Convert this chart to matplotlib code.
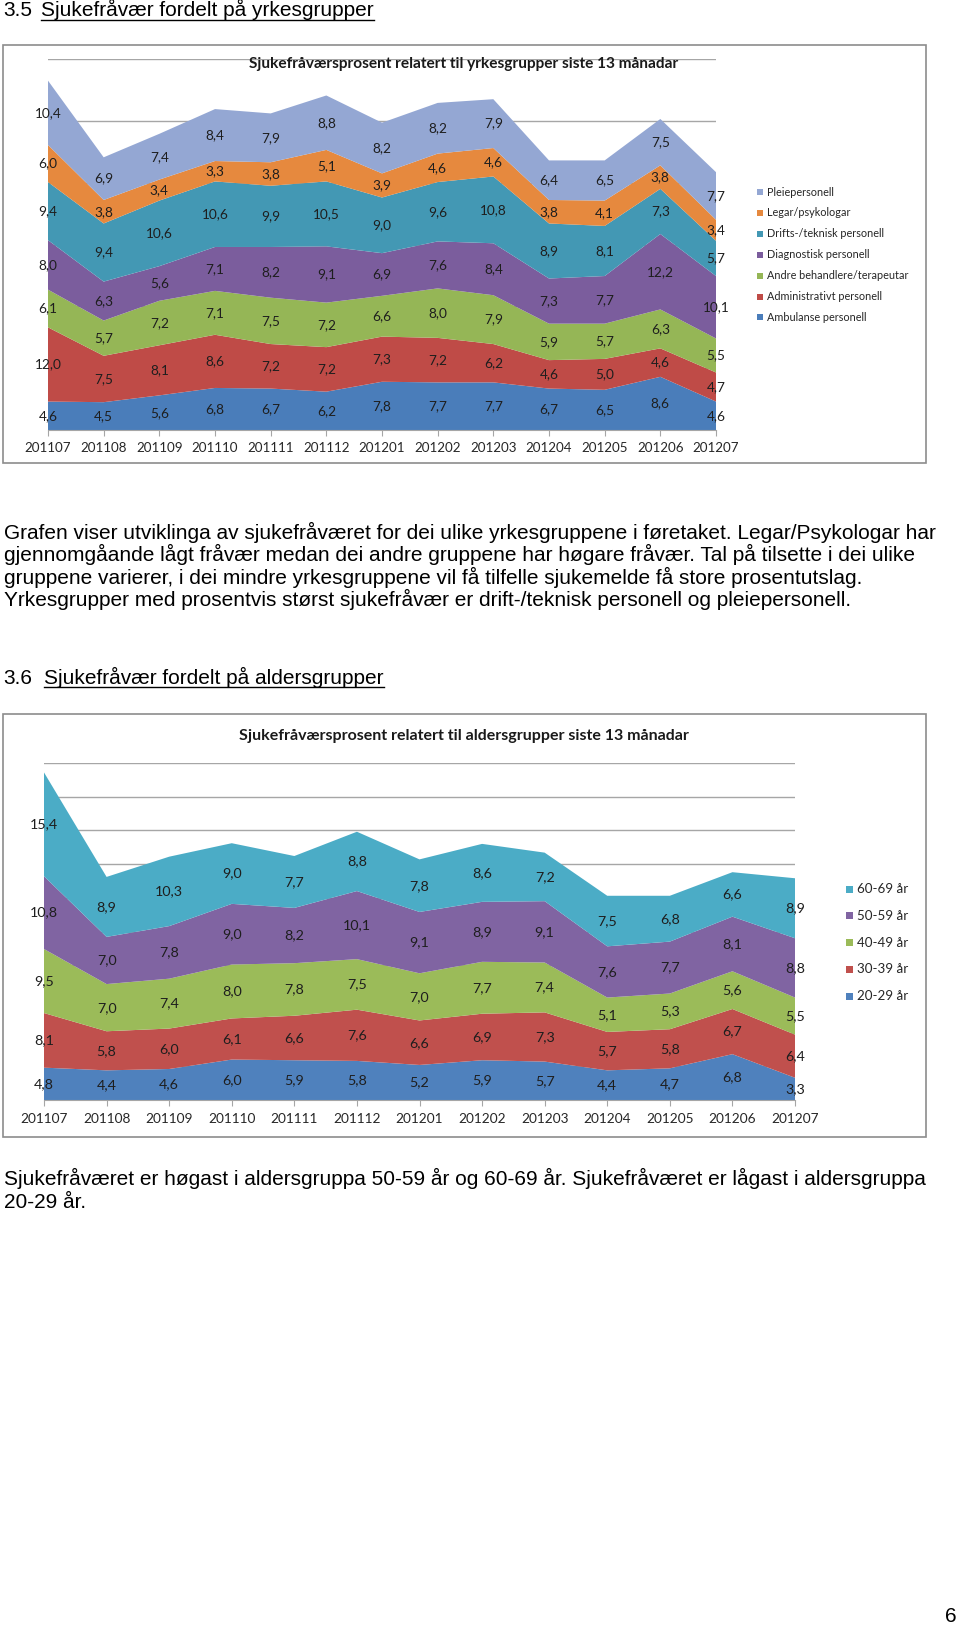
import matplotlib
matplotlib.use('Agg')
import matplotlib.pyplot as plt
import numpy as np
from matplotlib.patches import Rectangle
from matplotlib.lines import Line2D

W, H = 960, 1632

months = ['201107', '201108', '201109', '201110', '201111', '201112', '201201',
          '201202', '201203', '201204', '201205', '201206', '201207']

# ---- Chart 1: yrkesgrupper (bottom -> top) ----
yrke_names = ['Ambulanse personell', 'Administrativt personell', 'Andre behandlere/terapeutar',
              'Diagnostisk personell', 'Drifts-/teknisk personell', 'Legar/psykologar', 'Pleiepersonell']
ambulanse = [4.6, 4.5, 5.6, 6.8, 6.7, 6.2, 7.8, 7.7, 7.7, 6.7, 6.5, 8.6, 4.6]
administrativt = [12.0, 7.5, 8.1, 8.6, 7.2, 7.2, 7.3, 7.2, 6.2, 4.6, 5.0, 4.6, 4.7]
andre = [6.1, 5.7, 7.2, 7.1, 7.5, 7.2, 6.6, 8.0, 7.9, 5.9, 5.7, 6.3, 5.5]
diagnostisk = [8.0, 6.3, 5.6, 7.1, 8.2, 9.1, 6.9, 7.6, 8.4, 7.3, 7.7, 12.2, 10.1]
drifts = [9.4, 9.4, 10.6, 10.6, 9.9, 10.5, 9.0, 9.6, 10.8, 8.9, 8.1, 7.3, 5.7]
legar = [6.0, 3.8, 3.4, 3.3, 3.8, 5.1, 3.9, 4.6, 4.6, 3.8, 4.1, 3.8, 3.4]
pleie = [10.4, 6.9, 7.4, 8.4, 7.9, 8.8, 8.2, 8.2, 7.9, 6.4, 6.5, 7.5, 7.7]
yrke_colors = ['#4A7DBA', '#BF4B47', '#95B656', '#7B5D9D', '#4398B4', '#E6893E', '#94A7D3']

# ---- Chart 2: aldersgrupper (bottom -> top) ----
alder_names = ['20-29 år', '30-39 år', '40-49 år', '50-59 år', '60-69 år']
a20 = [4.8, 4.4, 4.6, 6.0, 5.9, 5.8, 5.2, 5.9, 5.7, 4.4, 4.7, 6.8, 3.3]
a30 = [8.1, 5.8, 6.0, 6.1, 6.6, 7.6, 6.6, 6.9, 7.3, 5.7, 5.8, 6.7, 6.4]
a40 = [9.5, 7.0, 7.4, 8.0, 7.8, 7.5, 7.0, 7.7, 7.4, 5.1, 5.3, 5.6, 5.5]
a50 = [10.8, 7.0, 7.8, 9.0, 8.2, 10.1, 9.1, 8.9, 9.1, 7.6, 7.7, 8.1, 8.8]
a60 = [15.4, 8.9, 10.3, 9.0, 7.7, 8.8, 7.8, 8.6, 7.2, 7.5, 6.8, 6.6, 8.9]
alder_colors = ['#4F81BD', '#C0504D', '#9BBB59', '#8064A2', '#4BACC6']

title1 = 'Sjukefråværsprosent relatert til yrkesgrupper siste 13 månadar'
title2 = 'Sjukefråværsprosent relatert til aldersgrupper siste 13 månadar'

para1 = ['Grafen viser utviklinga av sjukefråværet for dei ulike yrkesgruppene i føretaket. Legar/Psykologar har',
         'gjennomgåande lågt fråvær medan dei andre gruppene har høgare fråvær. Tal på tilsette i dei ulike',
         'gruppene varierer, i dei mindre yrkesgruppene vil få tilfelle sjukemelde få store prosentutslag.',
         'Yrkesgrupper med prosentvis størst sjukefråvær er drift-/teknisk personell og pleiepersonell.']
para2 = ['Sjukefråværet er høgast i aldersgruppa 50-59 år og 60-69 år. Sjukefråværet er lågast i aldersgruppa',
         '20-29 år.']

CHART_FONT = ['Lato', 'DejaVu Sans']
DOC_FONT = ['Liberation Sans', 'DejaVu Sans']

fig = plt.figure(figsize=(W / 100, H / 100), dpi=100)
fig.patch.set_facecolor('white')


def fx(x):
    return x / W


def fy(y):
    return 1 - y / H


def frame(x0, y0, x1, y1):
    fig.patches.append(Rectangle((fx(x0), fy(y1)), (x1 - x0) / W, (y1 - y0) / H,
                                 transform=fig.transFigure, fill=False,
                                 edgecolor='#8C8C8C', lw=1.2, zorder=0))


def chart(x0, y0, x1, y1, series, colors, ymax, ystep, label_fs, tick_fs, pad):
    ax = fig.add_axes([fx(x0), fy(y1), (x1 - x0) / W, (y1 - y0) / H])
    x = np.arange(len(months))
    ax.stackplot(x, *series, colors=colors, linewidth=0, zorder=2)
    ax.set_xlim(0, len(months) - 1)
    ax.set_ylim(0, ymax)
    ax.set_yticks(np.arange(0, ymax + 0.01, ystep))
    ax.grid(axis='y', color='#A6A6A6', lw=1.0, zorder=1)
    ax.set_axisbelow(True)
    for s in ['left', 'right', 'top']:
        ax.spines[s].set_visible(False)
    ax.spines['bottom'].set_color('#A6A6A6')
    ax.spines['bottom'].set_zorder(3)
    ax.tick_params(axis='y', length=0, labelleft=False)
    ax.set_xticks(x)
    ax.set_xticklabels(months, fontsize=tick_fs, family=CHART_FONT, color='#262626')
    ax.tick_params(axis='x', length=4, color='#A6A6A6', pad=pad)
    ax.patch.set_alpha(0)
    cum = np.zeros(len(months))
    for s in series:
        s = np.array(s)
        for i, v in enumerate(s):
            ax.text(i, cum[i] + v / 2, f'{v:.1f}'.replace('.', ','), ha='center', va='center',
                    fontsize=label_fs, family=CHART_FONT, color='#1E1E1E', zorder=5)
        cum += s
    return ax


def legend(names, colors, xm, y_first, dy, size, xt, fs):
    for k, (n, c) in enumerate(zip(names[::-1], colors[::-1])):
        yc = y_first + k * dy
        fig.patches.append(Rectangle((fx(xm), fy(yc + size / 2)), size / W, size / H,
                                     transform=fig.transFigure, facecolor=c, edgecolor='none'))
        fig.text(fx(xt), fy(yc), n, ha='left', va='center', fontsize=fs, family=CHART_FONT,
                 color='#262626')


# ---------------- Chart 1 ----------------
frame(3, 45, 926, 463)
chart(48, 59, 716, 430,
      [ambulanse, administrativt, andre, diagnostisk, drifts, legar, pleie],
      yrke_colors, 60, 10, 9.8, 9.6, 5.0)
fig.text(fx(464), fy(64), title1, ha='center', va='center', fontsize=11.1, weight='bold',
         family=CHART_FONT, color='#1A1A1A')
legend(yrke_names, yrke_colors, 757, 192, 20.9, 6, 767, 7.8)

# ---------------- Chart 2 ----------------
frame(3, 714, 926, 1137)
chart(44, 763, 795, 1100, [a20, a30, a40, a50, a60], alder_colors, 50, 5, 10.3, 9.8, 5.5)
fig.text(fx(464), fy(736), title2, ha='center', va='center', fontsize=11.5, weight='bold',
         family=CHART_FONT, color='#1A1A1A')
legend(alder_names, alder_colors, 846, 889, 26.8, 7, 857, 9.6)

# ---------------- Document text ----------------
doc_fs = 15.0
h1a = fig.text(fx(3), fy(16.5), '3.5', ha='left', va='baseline', fontsize=doc_fs, family=DOC_FONT)
h1b = fig.text(fx(41), fy(16.5), 'Sjukefråvær fordelt på yrkesgrupper', ha='left', va='baseline',
               fontsize=doc_fs, family=DOC_FONT)
h2a = fig.text(fx(3), fy(684), '3.6', ha='left', va='baseline', fontsize=doc_fs, family=DOC_FONT)
h2b = fig.text(fx(44), fy(684), 'Sjukefråvær fordelt på aldersgrupper', ha='left', va='baseline',
               fontsize=doc_fs, family=DOC_FONT)

for k, line in enumerate(para1):
    fig.text(fx(4), fy(532 + k * 22.6), line, ha='left', va='center', fontsize=doc_fs, family=DOC_FONT)
for k, line in enumerate(para2):
    fig.text(fx(4), fy(1178 + k * 24), line, ha='left', va='center', fontsize=doc_fs, family=DOC_FONT)
fig.text(fx(957), fy(1622), '6', ha='right', va='baseline', fontsize=doc_fs, family=DOC_FONT)

# underline headings
fig.canvas.draw()
r = fig.canvas.get_renderer()
for t, ybase in ((h1b, 16.5), (h2b, 684)):
    bb = t.get_window_extent(r)
    yl = fy(ybase + 3.0)
    fig.lines.append(Line2D([bb.x0 / W, bb.x1 / W], [yl, yl], transform=fig.transFigure,
                            color='black', lw=1.0))

fig.savefig('out.png', dpi=100, facecolor='white')
